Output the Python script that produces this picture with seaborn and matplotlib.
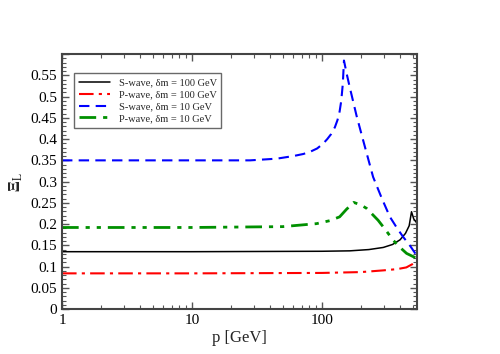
# plot.py
# Xi_L versus momentum for S-wave and P-wave, two mass splittings

import numpy as np
import pandas as pd
import matplotlib
matplotlib.use("Agg")
import matplotlib.pyplot as plt
from matplotlib.ticker import FuncFormatter, MultipleLocator, LogLocator, NullFormatter
import seaborn as sns

# --- data ---
p_s100 = [1, 10, 100, 164, 230, 297, 350, 400, 440, 470, 490, 510, 540]
xi_s100 = [0.135, 0.135, 0.136, 0.137, 0.140, 0.145, 0.152, 0.163, 0.178, 0.196, 0.229, 0.212, 0.202]

p_p100 = [1, 10, 100, 200, 297, 380, 447, 500, 540]
xi_p100 = [0.084, 0.084, 0.085, 0.087, 0.091, 0.094, 0.098, 0.106, 0.113]

p_s10 = [1, 10, 28, 45, 60, 72, 81, 92, 102, 110, 118, 126, 132, 137, 141, 145, 148,
         155, 164, 185, 208, 248, 290, 334, 380, 422, 480, 540]
xi_s10 = [0.350, 0.350, 0.350, 0.354, 0.360, 0.365, 0.370, 0.378, 0.389, 0.400, 0.412, 0.428, 0.445, 0.465, 0.490, 0.530, 0.585,
          0.555, 0.522, 0.455, 0.397, 0.311, 0.260, 0.217, 0.190, 0.170, 0.148, 0.125]

p_p10 = [1, 10, 50, 91, 115, 137, 155, 176, 200, 221, 271, 310, 354, 400, 449, 540]
xi_p10 = [0.192, 0.192, 0.194, 0.201, 0.208, 0.217, 0.235, 0.251, 0.245, 0.237, 0.209, 0.186, 0.162, 0.145, 0.131, 0.119]

labels = ["S-wave, δm = 100 GeV", "P-wave, δm = 100 GeV",
          "S-wave, δm = 10 GeV", "P-wave, δm = 10 GeV"]

sns.set_style("ticks")
plt.rcParams['font.family'] = ['Liberation Serif', 'DejaVu Serif']
plt.rcParams['mathtext.fontset'] = 'stix'

fig = plt.figure(figsize=(5, 3.54), dpi=100)
ax = fig.add_axes([0.124, 0.127, 0.71, 0.72])

series = [
    (p_s100, xi_s100, "black", "-", 1.1),
    (p_p100, xi_p100, "red", (0, (7, 2.5, 1.5, 2.5)), 1.5),
    (p_s10, xi_s10, "blue", (0, (5, 3)), 1.5),
    (p_p10, xi_p10, "#009000", (0, (6, 2.5, 1.5, 2.5, 1.5, 2.5)), 2.0),
]
for (px, py, col, ls, lw), lab in zip(series, labels):
    d = pd.DataFrame({"p": px, "xi": py})
    sns.lineplot(data=d, x="p", y="xi", ax=ax, color=col, linestyle=ls,
                 linewidth=lw, label=lab, sort=False)

ax.set_xscale("log")
ax.set_xlim(1, 540)
ax.set_ylim(0, 0.6)
ax.xaxis.set_major_formatter(FuncFormatter(lambda v, _: f"{v:g}"))
ax.xaxis.set_minor_locator(LogLocator(base=10, subs=np.arange(2, 10)))
ax.xaxis.set_minor_formatter(NullFormatter())
ax.yaxis.set_major_locator(MultipleLocator(0.05))
ax.yaxis.set_minor_locator(MultipleLocator(0.01))
ax.yaxis.set_major_formatter(FuncFormatter(lambda v, _: f"{v:g}" if v < 0.575 else ""))

ax.tick_params(which="both", direction="in", top=True, right=True, labelsize=11, colors="black")
ax.tick_params(which="major", length=5, width=1, color="#555555")
ax.tick_params(which="minor", length=3, width=0.8, color="#555555")
for s in ax.spines.values():
    s.set_linewidth(1.5)
    s.set_color("#444444")

ax.set_xlabel("p [GeV]", fontsize=12, labelpad=2)
ax.set_ylabel(r"$\mathbf{\Xi}_{\rm L}$", fontsize=12, labelpad=4)

leg = ax.legend(loc="upper left", bbox_to_anchor=(0.02, 0.945), fontsize=7.5,
                frameon=True, fancybox=False, edgecolor="#444444",
                handlelength=3.0, borderpad=0.45, labelspacing=0.25, handletextpad=0.8)
leg.get_frame().set_linewidth(1.0)

plt.savefig("out.png", dpi=100)
plt.close()
